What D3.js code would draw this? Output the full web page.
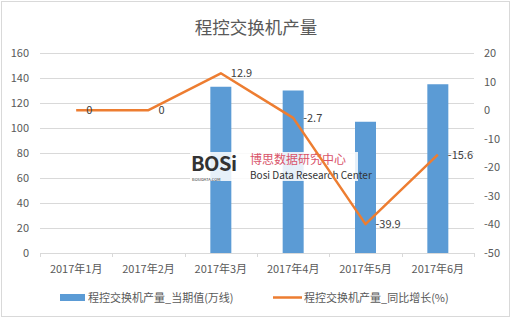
<!DOCTYPE html>
<html>
<head>
<meta charset="utf-8">
<script src="https://cdn.jsdelivr.net/npm/d3@7/dist/d3.min.js"></script>
<style>
  body { margin: 0; background: #fff; }
  text { font-family: "Noto Sans CJK SC", "Microsoft YaHei", sans-serif; }
</style>
</head>
<body>
<svg id="chart" width="512" height="319"></svg>
<script>
const months = ["2017年1月", "2017年2月", "2017年3月", "2017年4月", "2017年5月", "2017年6月"];
const output = [null, null, 133, 130, 105, 135];
const growth = [0, 0, 12.9, -2.7, -39.9, -15.6];
const leftTicks = [0, 20, 40, 60, 80, 100, 120, 140, 160];
const rightTicks = [-50, -40, -30, -20, -10, 0, 10, 20];

const svg = d3.select("#chart");
const margin = { left: 40, right: 474, top: 53, bottom: 253 };

// outer border
svg.append("rect")
  .attr("x", 1.5).attr("y", 1.5)
  .attr("width", 508).attr("height", 315)
  .attr("fill", "#fff").attr("stroke", "#d9d9d9");

const x = d3.scaleBand().domain(months).range([margin.left, margin.right]);
const yL = d3.scaleLinear().domain([0, 160]).range([margin.bottom, margin.top]);
const yR = d3.scaleLinear().domain([-50, 20]).range([margin.bottom, margin.top]);

// title
svg.append("text")
  .attr("x", 256).attr("y", 34)
  .attr("text-anchor", "middle")
  .attr("font-size", 17.5)
  .attr("fill", "#595959")
  .text("程控交换机产量");

// gridlines
svg.append("g").selectAll("line")
  .data(leftTicks)
  .enter().append("line")
  .attr("x1", margin.left).attr("x2", margin.right)
  .attr("y1", d => Math.round(yL(d)) + 0.5)
  .attr("y2", d => Math.round(yL(d)) + 0.5)
  .attr("stroke", "#d9d9d9");

// category ticks on baseline
svg.append("g").selectAll("line")
  .data(d3.range(months.length + 1))
  .enter().append("line")
  .attr("x1", i => Math.round(margin.left + i * x.step()) + 0.5)
  .attr("x2", i => Math.round(margin.left + i * x.step()) + 0.5)
  .attr("y1", margin.bottom).attr("y2", margin.bottom + 4)
  .attr("stroke", "#d9d9d9");

// left axis labels
svg.append("g").selectAll("text")
  .data(leftTicks)
  .enter().append("text")
  .attr("x", 29).attr("y", d => yL(d) + 4)
  .attr("text-anchor", "end")
  .attr("font-size", 11)
  .attr("fill", "#595959")
  .text(d => d);

// right axis labels
svg.append("g").selectAll("text")
  .data(rightTicks)
  .enter().append("text")
  .attr("x", 484).attr("y", d => yR(d) + 4)
  .attr("text-anchor", "start")
  .attr("font-size", 11)
  .attr("fill", "#595959")
  .text(d => d);

// x labels
svg.append("g").selectAll("text")
  .data(months)
  .enter().append("text")
  .attr("x", d => x(d) + x.bandwidth() / 2)
  .attr("y", 273)
  .attr("text-anchor", "middle")
  .attr("font-size", 11)
  .attr("fill", "#595959")
  .text(d => d);

// bars
const barW = 21;
svg.append("g").selectAll("rect")
  .data(months.map((m, i) => ({ m, v: output[i] })).filter(d => d.v != null))
  .enter().append("rect")
  .attr("x", d => x(d.m) + x.bandwidth() / 2 - barW / 2)
  .attr("y", d => yL(d.v))
  .attr("width", barW)
  .attr("height", d => yL(0) - yL(d.v))
  .attr("fill", "#5b9bd5");

// watermark
const wm = svg.append("g").attr("transform", "translate(190,152)");
wm.append("rect").attr("x", 0).attr("y", 0).attr("width", 168).attr("height", 29)
  .attr("fill", "#fff").attr("opacity", 0.85);
wm.append("text").attr("x", 1).attr("y", 19)
  .attr("font-family", "DejaVu Sans").attr("font-weight", "bold")
  .attr("font-size", 20).attr("fill", "#333").attr("letter-spacing", -0.5)
  .text("BOSi");
wm.append("text").attr("x", 2).attr("y", 28.5)
  .attr("font-family", "DejaVu Sans")
  .attr("font-size", 4).attr("fill", "#333")
  .text("BOSIDATA.COM");
wm.append("text").attr("x", 60).attr("y", 12)
  .attr("font-size", 12).attr("fill", "#d9546a")
  .text("博思数据研究中心");
wm.append("text").attr("x", 60).attr("y", 26.5)
  .attr("font-family", "Liberation Sans Narrow, Liberation Sans")
  .attr("font-size", 10).attr("fill", "#333")
  .text("Bosi Data Research Center");

// line
const line = d3.line()
  .x((d, i) => x(months[i]) + x.bandwidth() / 2)
  .y(d => yR(d));
svg.append("path")
  .datum(growth)
  .attr("d", line)
  .attr("fill", "none")
  .attr("stroke", "#ed7d31")
  .attr("stroke-width", 2.5)
  .attr("stroke-linejoin", "round");

// line labels
svg.append("g").selectAll("text")
  .data(growth)
  .enter().append("text")
  .attr("x", (d, i) => x(months[i]) + x.bandwidth() / 2 + 10)
  .attr("y", d => yR(d) + 4)
  .attr("font-size", 11)
  .attr("fill", "#404040")
  .text(d => d);

// legend
const lg = svg.append("g");
lg.append("rect").attr("x", 60).attr("y", 294).attr("width", 25).attr("height", 7).attr("fill", "#5b9bd5");
lg.append("text").attr("x", 88).attr("y", 302).attr("font-size", 11).attr("fill", "#595959")
  .text("程控交换机产量_当期值(万线)");
lg.append("line").attr("x1", 273).attr("x2", 302).attr("y1", 297.5).attr("y2", 297.5)
  .attr("stroke", "#ed7d31").attr("stroke-width", 2.5);
lg.append("text").attr("x", 304).attr("y", 302).attr("font-size", 11).attr("fill", "#595959")
  .text("程控交换机产量_同比增长(%)");
</script>
</body>
</html>
